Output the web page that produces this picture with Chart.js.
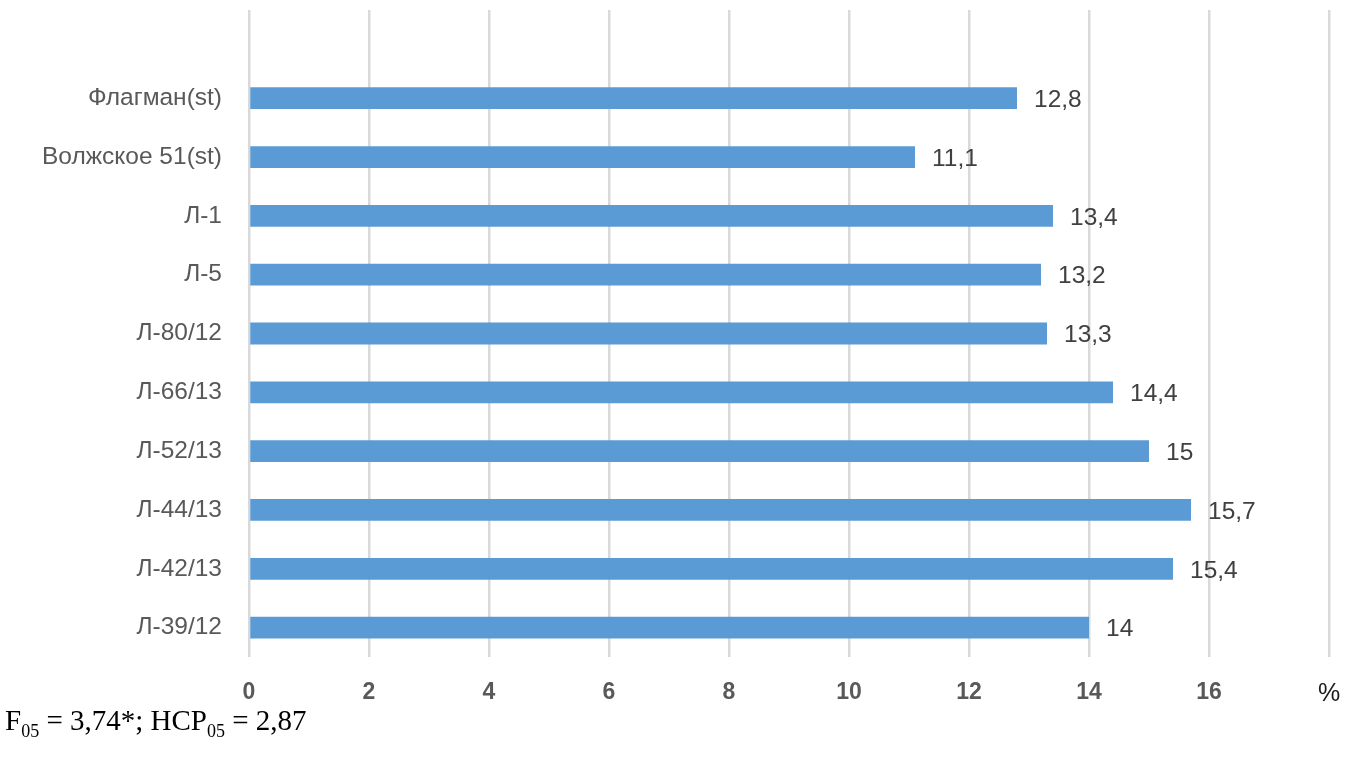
<!DOCTYPE html>
<html>
<head>
<meta charset="utf-8">
<script src="https://cdn.jsdelivr.net/npm/chart.js@4"></script>
<style>
  html, body { margin: 0; padding: 0; background: #fff; }
  #wrap { position: relative; width: 1351px; height: 761px; }
  #note {
    position: absolute; left: 5px; top: 706px;
    font-family: "Liberation Serif", "DejaVu Serif", serif;
    font-size: 29px; line-height: 1; color: #000; white-space: nowrap;
  }
  #note sub { font-size: 18px; vertical-align: -7px; line-height: 1; }
</style>
</head>
<body>
<div id="wrap">
  <canvas id="graphicLines"></canvas>
  <div id="note">F<sub>05</sub> = 3,74*; НСР<sub>05</sub> = 2,87</div>
</div>
<script>
// top row is left empty, as in the original sheet
const lines = ['', 'Флагман(st)', 'Волжское 51(st)', 'Л-1', 'Л-5', 'Л-80/12',
	'Л-66/13', 'Л-52/13', 'Л-44/13', 'Л-42/13', 'Л-39/12'];
const values = [null, 12.8, 11.1, 13.4, 13.2, 13.3, 14.4, 15, 15.7, 15.4, 14];
const xTicks = [0, 2, 4, 6, 8, 10, 12, 14, 16, 18];
const unitLabel = '%';

const font = '"Liberation Sans", Arial, sans-serif';

const valueLabels = {
	id: 'valueLabels',
	afterDatasetsDraw: function(chart) {
		const ctx = chart.ctx;
		const meta = chart.getDatasetMeta(0);
		ctx.save();
		ctx.font = '24.5px ' + font;
		ctx.fillStyle = '#404040';
		ctx.textBaseline = 'middle';
		ctx.textAlign = 'left';
		meta.data.forEach(function(bar, i) {
			if (values[i] == null) return;
			ctx.fillText(String(values[i]).replace('.', ','), bar.x + 17, bar.y + 2);
		});
		ctx.restore();
	}
};

const graphicLines = new Chart(document.getElementById('graphicLines').getContext('2d'), {
	type: 'bar',
	data: {
		labels: lines,
		datasets: [{
			data: values,
			backgroundColor: '#5b9bd5',
			barPercentage: 0.37,
			categoryPercentage: 1
		}]
	},
	options: {
		indexAxis: 'y',
		responsive: true,
		maintainAspectRatio: false,
		animation: false,
		layout: { padding: { top: 10, right: 22, left: 0, bottom: 0 } },
		plugins: { legend: { display: false }, tooltip: { enabled: false } },
		scales: {
			x: {
				min: 0,
				max: 18,
				afterBuildTicks: function(axis) {
					axis.ticks = xTicks.map(function(v) { return { value: v }; });
				},
				afterFit: function(axis) {
					axis.height = 104;
					axis.paddingLeft = 0;
					axis.paddingRight = 0;
				},
				grid: { color: '#d9d9d9', lineWidth: 2.5, drawTicks: false },
				border: { display: false },
				ticks: {
					padding: 22,
					maxRotation: 0,
					autoSkip: false,
					callback: function(v) { return v === 18 ? unitLabel : v; },
					color: function(c) { return c.tick && c.tick.value === 18 ? '#1a1a1a' : '#595959'; },
					font: function(c) {
						if (c.tick && c.tick.value === 18) {
							return { family: font, size: 25, weight: 'normal' };
						}
						return { family: font, size: 23, weight: 'bold' };
					}
				}
			},
			y: {
				afterFit: function(axis) {
					axis.width = 249;
					axis.paddingTop = 0;
					axis.paddingBottom = 0;
				},
				grid: { display: false },
				border: { display: false },
				ticks: {
					padding: 19,
					autoSkip: false,
					color: '#595959',
					font: { family: font, size: 24.5 }
				}
			}
		}
	},
	plugins: [valueLabels]
});
</script>
</body>
</html>
